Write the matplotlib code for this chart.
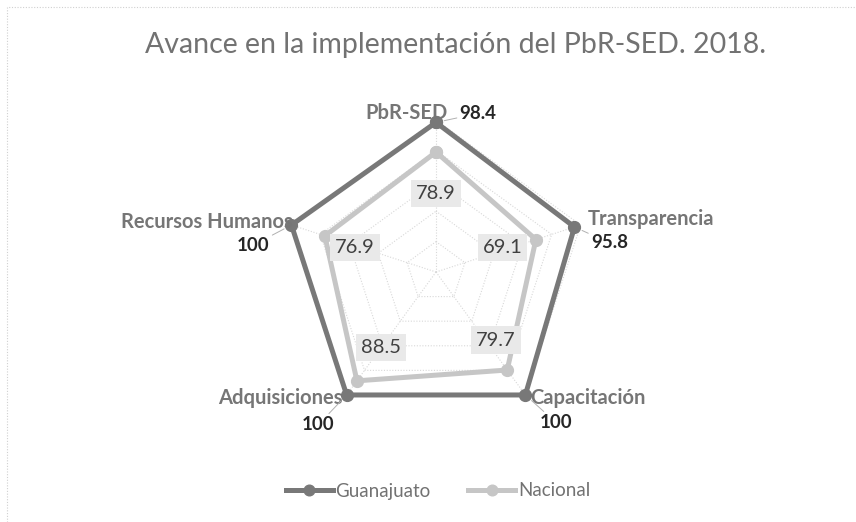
import numpy as np
import matplotlib
matplotlib.use("Agg")
import matplotlib.pyplot as plt
from matplotlib.patches import Rectangle

plt.rcParams['font.family'] = ['Lato', 'DejaVu Sans']

# datos
categorias = ['PbR-SED', 'Transparencia', 'Capacitación', 'Adquisiciones', 'Recursos Humanos']
guanajuato = [98.4, 95.8, 100, 100, 100]
nacional = [78.9, 69.1, 79.7, 88.5, 76.9]
niveles = [20, 40, 60, 80, 100]

W, H = 856, 522
fig = plt.figure(figsize=(W / 100, H / 100), dpi=100)

# borde punteado del area del grafico
fig.patches.append(Rectangle((7 / W, -0.1), 1.2, 1 - 7 / H + 0.1, transform=fig.transFigure,
                             fill=False, ec='#d0d0d0', lw=0.8, ls=(0, (1, 1.5))))

# centro y radio del radar en pixeles
cx, cy, R = 436, 272, 152
ax = fig.add_axes([(cx - R) / W, (H - cy - R) / H, 2 * R / W, 2 * R / H], projection='polar')
ax.set_theta_offset(np.pi / 2)
ax.set_theta_direction(-1)
ax.set_ylim(0, 100)
ax.grid(False)
ax.set_xticks([])
ax.set_yticks([])
ax.spines['polar'].set_visible(False)
ax.patch.set_alpha(0)

n = len(categorias)
ang = np.arange(n) * 2 * np.pi / n
ang_c = np.append(ang, ang[0])

# rejilla poligonal
for nv in niveles:
    ax.plot(ang_c, [nv] * (n + 1), color='#d8d8d8', lw=0.8, ls=(0, (1, 1.5)), zorder=1)
for a in ang:
    ax.plot([a, a], [0, 100], color='#d8d8d8', lw=0.8, ls=(0, (1, 1.5)), zorder=1)

ax.plot(ang_c, nacional + nacional[:1], color='#c6c6c6', lw=3.6, marker='o', ms=8.5,
        label='Nacional', zorder=3, clip_on=False)
ax.plot(ang_c, guanajuato + guanajuato[:1], color='#787878', lw=3.6, marker='o', ms=8.5,
        label='Guanajuato', zorder=4, clip_on=False)

# etiquetas de categoria (desplazamientos en puntos)
cat_off = [(8.6, 6.5, 'right'), (9.7, 5.8, 'left'), (3.6, -2.2, 'left'),
           (-2.7, -2.2, 'right'), (1.2, 2.2, 'right')]
for a, v, c, (dx, dy, ha) in zip(ang, guanajuato, categorias, cat_off):
    ax.annotate(c, xy=(a, v), xytext=(dx, dy), textcoords='offset points', ha=ha, va='center',
                fontsize=14.5, fontweight='bold', color='#767676', zorder=6, annotation_clip=False)

# valores Guanajuato
g_off = [(17, 6.5, 'left'), (11.9, -11.5, 'left'), (22.3, -20, 'center'),
         (-20.5, -21.5, 'center'), (-27.5, -14.5, 'center')]
for a, v, (dx, dy, ha) in zip(ang, guanajuato, g_off):
    txt = '%g' % v
    ax.annotate(txt, xy=(a, v), xytext=(dx, dy), textcoords='offset points', ha=ha, va='center',
                fontsize=13.5, fontweight='bold', color='#262626', zorder=6, annotation_clip=False,
                arrowprops=dict(arrowstyle='-', color='#b0b0b0', lw=0.7, shrinkA=0, shrinkB=6))

# valores Nacional
n_off = [(0, -29.5), (-24, -6), (-8, 21.6), (17.3, 23.8), (21.5, -8.6)]
for a, v, (dx, dy) in zip(ang, nacional, n_off):
    ax.annotate('%.1f' % v, xy=(a, v), xytext=(dx, dy), textcoords='offset points',
                ha='center', va='center', fontsize=14.5, color='#404040', zorder=6,
                bbox=dict(boxstyle='square,pad=0.25', fc='#e9e9e9', ec='none'))

fig.text(456 / W, 1 - 45 / H, 'Avance en la implementación del PbR-SED. 2018.',
         ha='center', va='center', fontsize=20.5, color='#727272')

h, l = ax.get_legend_handles_labels()
fig.legend(h[::-1], l[::-1], loc='center', bbox_to_anchor=(438 / W, 1 - 491 / H), ncol=2,
           frameon=False, fontsize=13.5, labelcolor='#727272', handlelength=2.5,
           handletextpad=0.15, columnspacing=2.0, markerscale=0.9)

fig.savefig('out.png', dpi=100)
